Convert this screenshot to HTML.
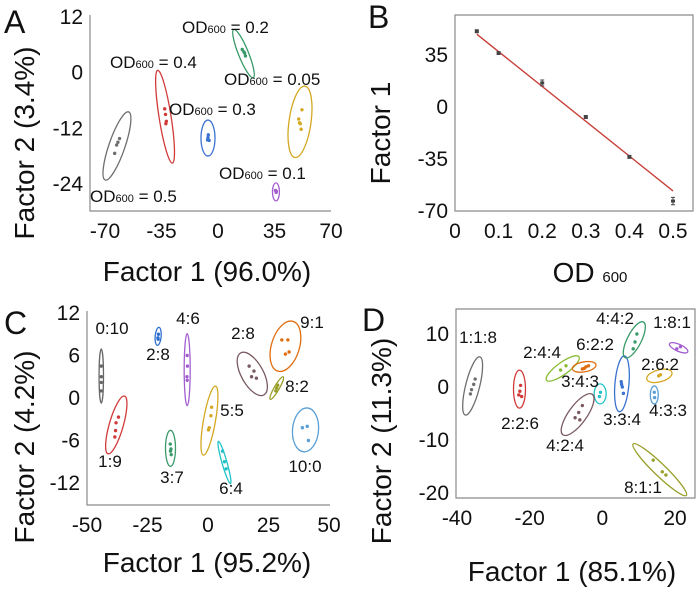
<!DOCTYPE html>
<html><head><meta charset="utf-8">
<style>
html,body{margin:0;padding:0;background:#fff;width:700px;height:589px;overflow:hidden}
svg{display:block;font-family:"Liberation Sans",Arial,sans-serif}
</style></head>
<body>
<svg id="fig" width="700" height="589" viewBox="0 0 700 589" xmlns="http://www.w3.org/2000/svg"></svg>
<script>
// ---------- Panel A data ----------
const aGroups = ["OD600 = 0.5","OD600 = 0.4","OD600 = 0.3","OD600 = 0.2","OD600 = 0.05","OD600 = 0.1"];
const aCenterX = [-62.6,-32.8,-6.2,15.8,50.8,35.9];
const aCenterY = [-15.8,-9.5,-14.1,4.1,-10.6,-25.7];
const aPtsX = [[-61,-62,-64,-62.8],[-33,-32.5,-32,-32.3],[-6,-6.5,-5.5,-6.2],[15,16,17,16.5],[52,50,51,51.5,50.5],[35.6,36,36.2]];
const aPtsY = [[-14.2,-15,-17.4,-15.6],[-7.8,-9,-10.5,-11],[-13.4,-14.5,-14.6,-14],[5,4.5,3.6,4.2],[-8,-10,-11,-12.2,-10.8],[-25.4,-25.8,-25.6]];
const aXTicks = [-70,-35,0,35,70];
const aYTicks = [12,0,-12,-24];
// ---------- Panel B data ----------
const bOD = [0.05,0.1,0.2,0.3,0.4,0.5];
const bF1 = [51,36.3,16.2,-6.7,-33.6,-63.3];
const bErr = [1,1,2,1,1,2.5];
const bFitSlope = -234.4;
const bFitIntercept = 60.7;
const bXTicks = [0,0.1,0.2,0.3,0.4,0.5];
const bYTicks = [35,0,-35,-70];
// ---------- Panel C data ----------
const cGroups = ["0:10","2:8","4:6","1:9","3:7","5:5","6:4","2:8","9:1","8:2","10:0"];
const cCenterX = [-44.1,-20.6,-8.6,-37.9,-15.5,0.6,6.8,18.3,32,28.4,40.3];
const cCenterY = [3.1,8.7,4,-3.8,-7.1,-3.2,-9.1,3.4,7.3,1.4,-4.5];
const cPtsX = [[-44.1,-44.1,-44.1,-44.2],[-20.5,-20.7,-20.6],[-8.6,-8.5,-8.7,-8.6],[-37,-38,-38.2,-38.5],[-15.6,-15.3,-15.2,-15.5],[1.5,1.2,0.5,0.2],[6,6.8,7.5],[17,19,18,20],[30.5,33,32,33.5],[28,28.8,28.4],[39,41,41.5]];
const cPtsY = [[4.5,3,2.2,1],[9,8.5,8.3],[6,4.5,3,2.5],[-2.7,-3.5,-4.6,-5.5],[-6.5,-7.2,-8,-7.5],[-1.3,-2.5,-4.2,-4.5],[-7.5,-9,-10],[4.5,3.8,3,2.8],[8.2,8.2,6.2,6.5],[1,1.8,1.4],[-4.2,-4,-6]];
const cXTicks = [-50,-25,0,25,50];
const cYTicks = [12,6,0,-6,-12];
// ---------- Panel D data ----------
const dGroups = ["1:1:8","2:2:6","2:4:4","6:2:2","3:4:3","4:2:4","3:3:4","4:4:2","1:8:1","2:6:2","4:3:3","8:1:1"];
const dCenterX = [-35.7,-22.8,-10.9,-5,-0.6,-6.8,5.4,8.8,21,15.7,14.3,15.8];
const dCenterY = [0.2,-0.4,3.5,3.8,-1.3,-5.2,0.6,8.9,7.4,2.1,-1.5,-15.6];
const dPtsX = [[-35,-35.4,-36,-36.3],[-22.5,-22.7,-23,-22.2],[-10,-11.5],[-5.5,-4.5,-5,-3.8],[-0.5,-0.8],[-5.5,-6.5,-7.5,-6.2],[5.2,5.5,5.8,5.3],[9.5,9,8.5],[20.5,21.5],[15.5,16],[14.3,14.4],[14,16.5,17.5]];
const dPtsY = [[1.5,0.5,-0.5,-1.3],[0.3,-0.8,-1.5,-1.8],[4,3.2],[3.4,3.8,3.5,4],[-1,-1.8],[-3.5,-4.8,-5.8,-6.2],[1,0,-1.2,0.5],[10,8.5,7.2],[7.2,7.6],[2.1,2.3],[-1,-2],[-13.8,-16,-16.6]];
const dXTicks = [-40,-20,0,20];
const dYTicks = [10,0,-10,-20];

// ---------- styles (not data) ----------
const aStyle = [
 {c:"#6e6e6e",rx:36,ry:8,ang:-71,lx:90,ly:202},
 {c:"#d23a3a",rx:47,ry:6,ang:81,lx:110,ly:68},
 {c:"#3a72cf",rx:18,ry:7,ang:90,lx:169,ly:115},
 {c:"#3a9a6a",rx:26,ry:5,ang:68,lx:182,ly:33},
 {c:"#d4a821",rx:36,ry:11,ang:98,lx:224,ly:85},
 {c:"#a35fd0",rx:9,ry:3.5,ang:90,lx:219,ly:179}];
const cStyle = [
 {c:"#666",rx:27,ry:2.2,ang:90,lx:112,ly:334},
 {c:"#2f6fd0",rx:9,ry:3,ang:95,lx:158,ly:360},
 {c:"#a35fd0",rx:36,ry:3,ang:90,lx:188,ly:324},
 {c:"#d23a3a",rx:30,ry:7,ang:106,lx:110,ly:467},
 {c:"#3a9a6a",rx:18,ry:5,ang:90,lx:172,ly:483},
 {c:"#d4a821",rx:35,ry:6,ang:100,lx:232,ly:416},
 {c:"#22c3c8",rx:22,ry:2.5,ang:74,lx:231,ly:494},
 {c:"#7a5a60",rx:24,ry:11,ang:61,lx:243,ly:339},
 {c:"#e06d10",rx:26,ry:14,ang:107,lx:312,ly:328},
 {c:"#99a02a",rx:13,ry:2.5,ang:120,lx:297,ly:392},
 {c:"#5a9fd6",rx:22,ry:13,ang:95,lx:305,ly:472}];
const dStyle = [
 {c:"#6e6e6e",rx:30,ry:7,ang:104,lx:478,ly:343},
 {c:"#d23a3a",rx:19,ry:6,ang:90,lx:520,ly:429},
 {c:"#88bb33",rx:20,ry:6,ang:-36,lx:542,ly:358},
 {c:"#e06d10",rx:12,ry:5,ang:-10,lx:595,ly:350},
 {c:"#22c3c8",rx:10,ry:6,ang:90,lx:580,ly:387},
 {c:"#7a5a60",rx:25,ry:9,ang:126,lx:565,ly:451},
 {c:"#3a72cf",rx:28,ry:7,ang:95,lx:622,ly:425},
 {c:"#3a9a6a",rx:20,ry:7,ang:117,lx:615,ly:324},
 {c:"#a35fd0",rx:10,ry:3.5,ang:24,lx:672,ly:328},
 {c:"#d4a821",rx:13,ry:6,ang:-15,lx:660,ly:370},
 {c:"#5a9fd6",rx:9,ry:4,ang:90,lx:668,ly:416},
 {c:"#99a02a",rx:37,ry:6,ang:44,lx:643,ly:493}];

const NS="http://www.w3.org/2000/svg";
const svg=document.getElementById('fig');
function mk(tag,attrs,parent){const e=document.createElementNS(NS,tag);for(const k in attrs)e.setAttribute(k,attrs[k]);(parent||svg).appendChild(e);return e;}
function lin(d0,d1,p0,p1){return v=>p0+(v-d0)/(d1-d0)*(p1-p0);}

function axes(g,name,x0,x1,y0,y1,xs,ys,xt,yt,box,fmt){
  const ax=mk('path',{d:box?`M${x0},${y0}H${x1}V${y1}H${x0}Z`:`M${x0},${y0}V${y1}H${x1}`,fill:'none',stroke:'#8a8a8a','stroke-width':1.2},g);
  
  
  xt.forEach(v=>{const t=mk('text',{x:xs(v),y:y1+27,'font-size':21,'text-anchor':'middle',fill:'#111'},g);t.textContent=fmt?fmt(v):v;
    
    });
  yt.forEach(v=>{const t=mk('text',{x:x0-7,y:ys(v)+7,'font-size':21,'text-anchor':'end',fill:'#111'},g);t.textContent=v;
    
    });
}
function title(g,name,txt,x,y,rot){const t=mk('text',{x:x,y:y,'font-size':28,'text-anchor':'middle',fill:'#111',transform:rot?`rotate(-90 ${x} ${y})`:''},g);t.textContent=txt;
  
  return t;}
function letter(txt,x,y){const t=mk('text',{x:x,y:y,'font-size':32,fill:'#111'});t.textContent=txt;
  
  }

function clusters(g,name,groups,cx,cy,px,py,st,xs,ys,odLabel){
  groups.forEach((lab,i)=>{
    const s=st[i],X=xs(cx[i]),Y=ys(cy[i]);
    const el=mk('ellipse',{cx:X,cy:Y,rx:s.rx,ry:s.ry,transform:`rotate(${s.ang} ${X} ${Y})`,fill:'none',stroke:s.c,'stroke-width':1.3},g);
    
    
    px[i].forEach((v,j)=>{const p=mk('circle',{cx:xs(v),cy:ys(py[i][j]),r:1.7,fill:s.c},g);
      
      });
    const t=mk('text',{x:s.lx,y:s.ly,'font-size':17,fill:'#111','text-anchor':odLabel?'start':'middle'},g);
    if(odLabel){t.innerHTML='OD<tspan font-size="11">600</tspan>'+lab.replace('OD600','');}
    else t.textContent=lab;
    
    
  });
}

// Panel A
{const g=mk('g',{});
 const xs=lin(-70,70,105,331), ys=lin(12,-24,17,184);
 axes(g,'panel-a',90,331,15,211,xs,ys,aXTicks,aYTicks,false);
 clusters(g,'panel-a',aGroups,aCenterX,aCenterY,aPtsX,aPtsY,aStyle,xs,ys,true);
 title(g,'panel-a-x-axis-title','Factor 1 (96.0%)',207,281);
 title(g,'panel-a-y-axis-title','Factor 2 (3.4%)',34,143,true);
 letter('A',4,33);}
// Panel B
{const g=mk('g',{});
 const xs=lin(0,0.5,455,673), ys=lin(0,-70,107,211);
 axes(g,'panel-b',455,693,15,211,xs,ys,bXTicks,bYTicks,true);
 const f=v=>bFitIntercept+bFitSlope*v;
 const ln=mk('line',{x1:xs(0.05),y1:ys(f(0.05)),x2:xs(0.5),y2:ys(f(0.5)),stroke:'#c8403a','stroke-width':1.4},g);
 
 
 bOD.forEach((v,i)=>{const X=xs(v),Y=ys(bF1[i]);
  const e=mk('path',{d:`M${X},${ys(bF1[i]+bErr[i])}V${ys(bF1[i]-bErr[i])}M${X-2},${ys(bF1[i]+bErr[i])}h4M${X-2},${ys(bF1[i]-bErr[i])}h4`,stroke:'#444','stroke-width':1},g);
  
  
  const p=mk('rect',{x:X-2,y:Y-1.5,width:4,height:3,fill:'#444'},g);
  
  });
 const t=title(g,'panel-b-x-axis-title','',590,282);t.innerHTML='OD <tspan font-size="15">600</tspan>';
 title(g,'panel-b-y-axis-title','Factor 1',390,133,true);
 letter('B',368,28);}
// Panel C
{const g=mk('g',{});
 const xs=lin(-50,50,87,329), ys=lin(12,-12,313,483);
 axes(g,'panel-c',87,330,311,505,xs,ys,cXTicks,cYTicks,false);
 clusters(g,'panel-c',cGroups,cCenterX,cCenterY,cPtsX,cPtsY,cStyle,xs,ys,false);
 title(g,'panel-c-x-axis-title','Factor 1 (95.2%)',207,572);
 title(g,'panel-c-y-axis-title','Factor 2 (4.2%)',34,447,true);
 letter('C',4,334);}
// Panel D
{const g=mk('g',{});
 const xs=lin(-40,20,457,675), ys=lin(10,-20,334,493);
 axes(g,'panel-d',456,695,309,498,xs,ys,dXTicks,dYTicks,true);
 clusters(g,'panel-d',dGroups,dCenterX,dCenterY,dPtsX,dPtsY,dStyle,xs,ys,false);
 title(g,'panel-d-x-axis-title','Factor 1 (85.1%)',572,581);
 title(g,'panel-d-y-axis-title','Factor 2 (11.3%)',391,441,true);
 letter('D',362,331);}
</script>
</body></html>
